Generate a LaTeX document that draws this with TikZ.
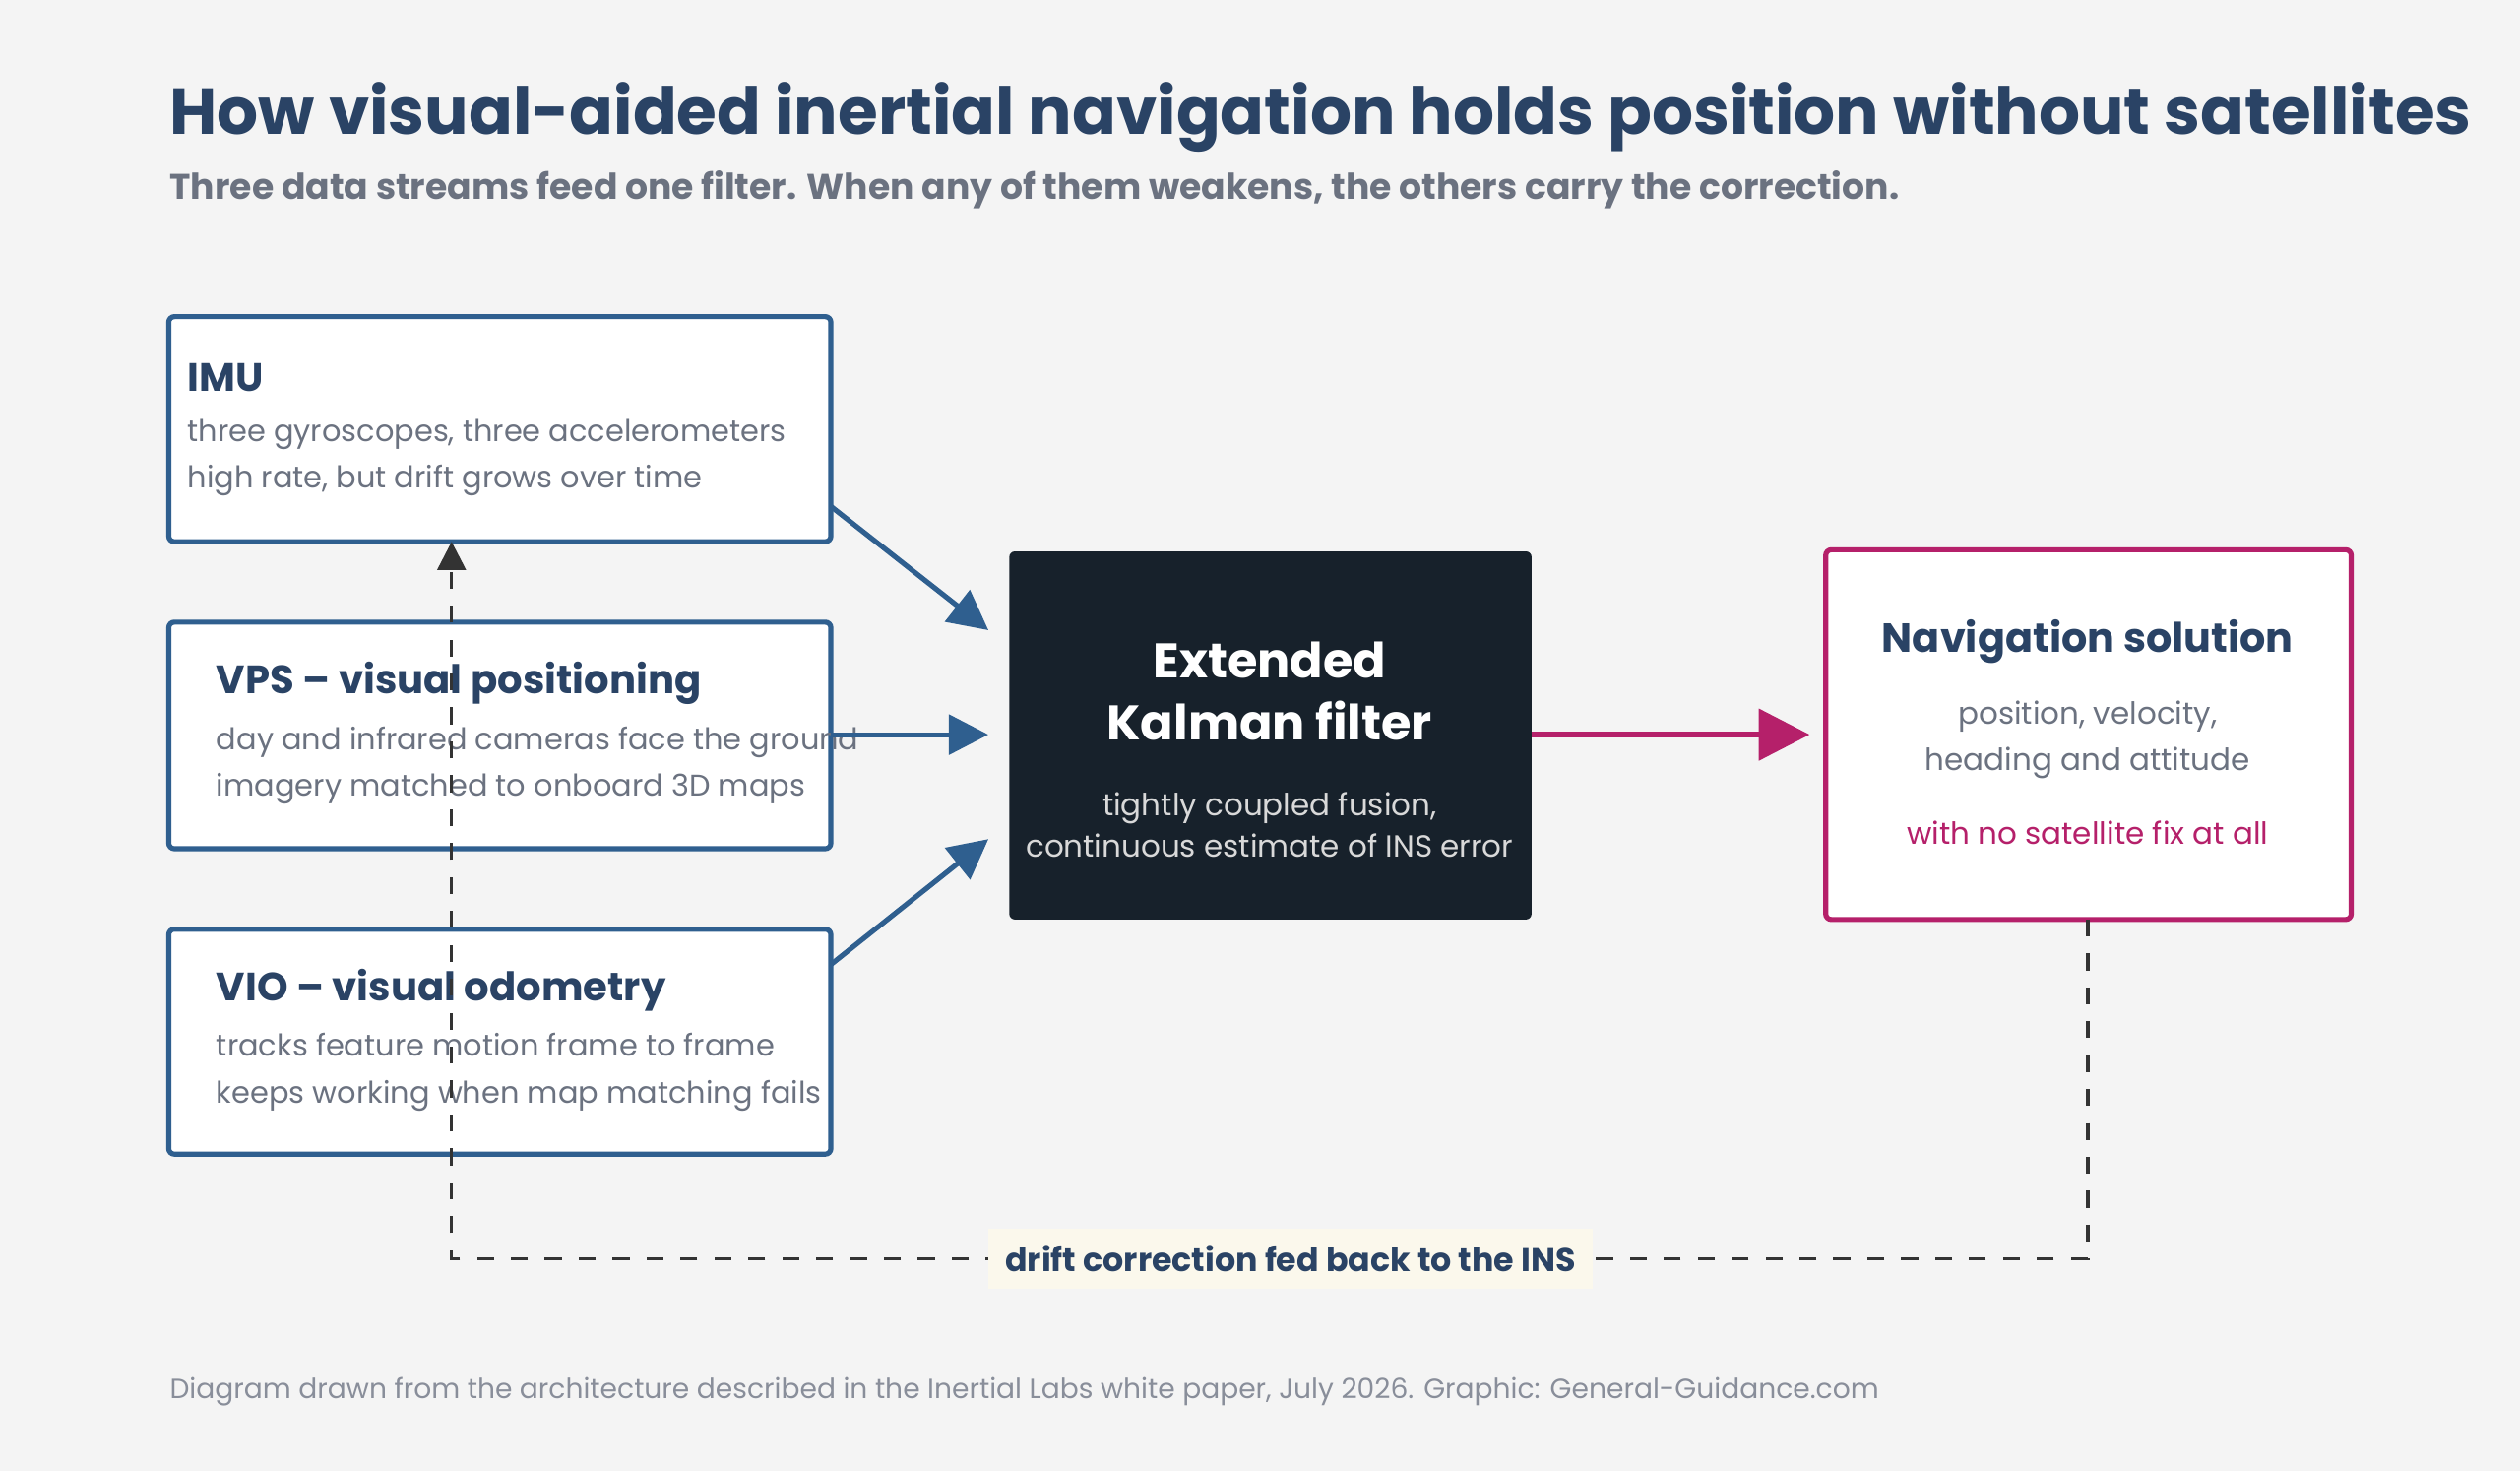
\documentclass[tikz,border=0pt]{standalone}
\usepackage{fontspec}
\setmainfont{Poppins}
\usetikzlibrary{arrows.meta,positioning}
\definecolor{navy}{HTML}{2A4365}
\definecolor{steel}{HTML}{2F5F8F}
\definecolor{inkgray}{HTML}{6B7280}
\definecolor{darkbox}{HTML}{17212B}
\definecolor{magenta}{HTML}{B5206A}
\definecolor{bgpaper}{HTML}{F4F4F4}
\definecolor{cream}{HTML}{FBF8EC}
\tikzset{
  srcbox/.style={draw=steel, line width=0.9pt, fill=white, rounded corners=1pt},
  head/.style={font=\fontsize{7}{8}\selectfont\bfseries, text=navy, anchor=west, inner sep=0pt},
  body/.style={font=\fontsize{5.3}{8.2}\selectfont, text=inkgray, anchor=west, align=left, inner sep=0pt},
  feed/.style={-{Triangle[length=7pt,width=7pt]}, steel, line width=0.9pt},
  back/.style={dashed, line width=0.6pt, black!80}
}
\begin{document}
\begin{tikzpicture}[x=0.01cm,y=-0.01cm]
  \fill[bgpaper] (0,0) rectangle (1568,915);
  \useasboundingbox (0,0) rectangle (1568,915);
  \node (title) [anchor=west, inner sep=0pt, font=\fontsize{11.5}{13}\selectfont\bfseries, text=navy] at (105,73) {How visual-aided inertial navigation holds position without satellites};
  \node (sub) [anchor=west, inner sep=0pt, font=\fontsize{6.3}{7}\selectfont\bfseries, text=inkgray] at (105,118) {Three data streams feed one filter. When any of them weakens, the others carry the correction.};

  \draw[srcbox] (105,197) rectangle (517,337);
  \draw[srcbox] (105,387) rectangle (517,528);
  \draw[srcbox] (105,578) rectangle (517,718);
  \coordinate (imu) at (517,315);
  \coordinate (vps) at (517,457);
  \coordinate (vio) at (517,600);
  \node[head] at (116,235) {IMU};
  \node[body] (imutext) at (116,285) {three gyroscopes, three accelerometers\\high rate, but drift grows over time};
  \node[head] at (134,425) {VPS – visual positioning};
  \node[body] (vpstext) at (134,476) {day and infrared cameras face the ground\\imagery matched to onboard 3D maps};
  \node[head] at (134,616) {VIO – visual odometry};
  \node[body] (viotext) at (134,667) {tracks feature motion frame to frame\\keeps working when map matching fails};

  \fill[darkbox, rounded corners=1pt] (628,343) rectangle (953,572);
  \node (ekf) [font=\fontsize{8.6}{11}\selectfont\bfseries, text=white, align=center] at (790,430) {Extended\\Kalman filter};
  \node (ekftext) [font=\fontsize{5.4}{7.4}\selectfont, text=white!85!black, align=center] at (790,513) {tightly coupled fusion,\\continuous estimate of INS error};

  \draw[draw=magenta, line width=0.9pt, fill=white, rounded corners=1pt] (1136,342) rectangle (1463,572);
  \node (nav) [font=\fontsize{7.2}{8}\selectfont\bfseries, text=navy] at (1299,399) {Navigation solution};
  \node (navtext) [font=\fontsize{5.4}{8.2}\selectfont, text=inkgray, align=center] at (1299,460) {position, velocity,\\heading and attitude};
  \node (navfix) [font=\fontsize{5.4}{7}\selectfont, text=magenta] at (1299,518) {with no satellite fix at all};

  \coordinate (in1) at (615,392);
  \coordinate (in2) at (615,457);
  \coordinate (in3) at (615,522);
  \coordinate (ekfout) at (953,457);
  \coordinate (navin) at (1126,457);
  \draw[feed] (imu) -- (in1);
  \draw[feed] (vps) -- (in2);
  \draw[feed] (vio) -- (in3);
  \draw[-{Triangle[length=9pt,width=9pt]}, magenta, line width=1pt] (ekfout) -- (navin);

  \coordinate (navbot) at (1299,572);
  \coordinate (corner1) at (1299,783);
  \coordinate (corner2) at (281,783);
  \coordinate (imubot) at (281,337);
  \draw[back, -{Triangle[length=5pt,width=5pt]}] (navbot) -- (corner1) -- (corner2) -- (imubot);
  \node (fb) [fill=cream, font=\fontsize{5.8}{7}\selectfont\bfseries, text=navy, inner xsep=3pt, inner ysep=3pt] at (803,783) {drift correction fed back to the INS};

  \node (foot) [anchor=west, inner sep=0pt, font=\fontsize{4.9}{6}\selectfont, text=inkgray!80] at (105,866) {Diagram drawn from the architecture described in the Inertial Labs white paper, July 2026. Graphic: General-Guidance.com};
\end{tikzpicture}
\end{document}
